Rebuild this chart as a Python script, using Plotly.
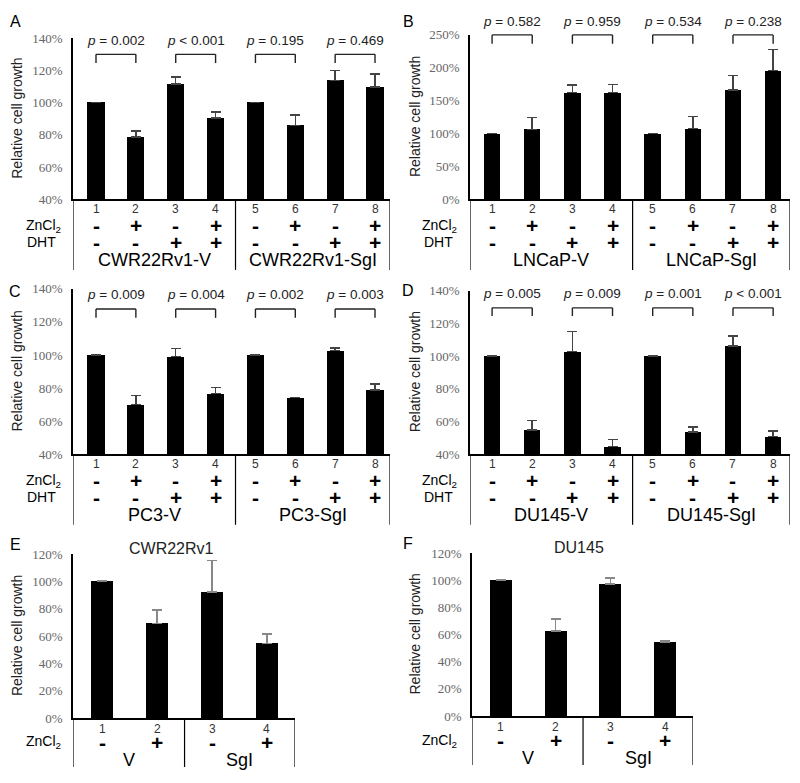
import plotly.graph_objects as go

# the page body keeps an 8px margin, so the figure is drawn 16px smaller
# and every reference pixel position is shifted by that margin
W, H = 800, 783
OFF = 8
FW, FH = W - 2 * OFF, H - 2 * OFF

# ---- data ----
a_vals = [100, 78.8, 111.6, 90.6, 100, 85.9, 113.7, 109.6]
a_err = [0, 3.6, 4.3, 3.7, 0, 6.5, 6.3, 8.2]
a_p = ["= 0.002", "< 0.001", "= 0.195", "= 0.469"]
a_groups = ["CWR22Rv1-V", "CWR22Rv1-SgI"]

b_vals = [100, 106.5, 162.5, 162.5, 100, 107.5, 166.5, 196]
b_err = [0, 18, 11, 12, 0, 18.5, 22, 31.5]
b_p = ["= 0.582", "= 0.959", "= 0.534", "= 0.238"]
b_groups = ["LNCaP-V", "LNCaP-SgI"]

c_vals = [100, 70.2, 99.2, 76.6, 100, 74.4, 102.6, 78.8]
c_err = [0, 5.2, 4.6, 3.8, 0, 0, 1.6, 3.5]
c_p = ["= 0.009", "= 0.004", "= 0.002", "= 0.003"]
c_groups = ["PC3-V", "PC3-SgI"]

d_vals = [100, 54.9, 102.6, 44.6, 100, 53.7, 106.2, 50.7]
d_err = [0, 5.6, 12.4, 4.3, 0, 2.8, 6, 3.6]
d_p = ["= 0.005", "= 0.009", "= 0.001", "< 0.001"]
d_groups = ["DU145-V", "DU145-SgI"]

e_vals = [100, 69.2, 92.5, 54.7]
e_err = [0.5, 10.1, 22.9, 6.7]
f_vals = [100, 62.7, 97.1, 54.5]
f_err = [0.5, 8.6, 4.3, 1.2]
ef_groups = ["V", "SgI"]

zn8 = ["-", "+", "-", "+", "-", "+", "-", "+"]
dht8 = ["-", "-", "+", "+", "-", "-", "+", "+"]
zn4 = ["-", "+", "-", "+"]

SANS = "Liberation Sans, Arial, sans-serif"
SERIF = "Liberation Serif, Times New Roman, serif"

# pixel boxes in the reference: (left, right, top, bottom)
panels = [
    dict(letter="A", vals=a_vals, err=a_err, p=a_p, groups=a_groups, box=(73, 390, 31.7, 196),
         yr=[40, 140], dt=20, xr=[0.423, 8.376], bw=0.43, br=(0.846, 0.90, 0.986),
         lpos=(15, 15), ylab=17, title=None),
    dict(letter="B", vals=b_vals, err=b_err, p=b_p, groups=b_groups, box=(470, 790, 28.3, 196),
         yr=[0, 250], dt=50, xr=[0.45, 8.42], bw=0.41, br=(0.946, 1.0, 1.079),
         lpos=(408, 15), ylab=415, title=None),
    dict(letter="C", vals=c_vals, err=c_err, p=c_p, groups=c_groups, box=(73, 390, 287.2, 456),
         yr=[40, 140], dt=20, xr=[0.423, 8.376], bw=0.43, br=(0.824, 0.878, 0.966),
         lpos=(15, 290), ylab=17, title=None),
    dict(letter="D", vals=d_vals, err=d_err, p=d_p, groups=d_groups, box=(470, 790, 289, 456),
         yr=[40, 140], dt=20, xr=[0.45, 8.42], bw=0.41, br=(0.844, 0.894, 0.98),
         lpos=(408, 289), ylab=415, title=None),
    dict(letter="E", vals=e_vals, err=e_err, p=None, groups=ef_groups, box=(73, 295, 558, 725),
         yr=[0, 120], dt=20, xr=[0.47, 4.51], bw=0.4, br=None,
         lpos=(15, 548), ylab=17, title=("CWR22Rv1", 171, 552)),
    dict(letter="F", vals=f_vals, err=f_err, p=None, groups=ef_groups, box=(472, 693, 556.7, 723),
         yr=[0, 120], dt=20, xr=[0.47, 4.51], bw=0.4, br=None,
         lpos=(408, 547), ylab=415, title=("DU145", 579, 551)),
]


def px(x):
    return (x - OFF) / FW


def py(y):
    return 1 - (y - OFF) / FH


def text(x, xref, y, yref, s, size, color="black", family=SANS, **kw):
    return dict(x=x, xref=xref, y=y, yref=yref, text=s, showarrow=False,
                xanchor="center", yanchor="middle",
                font=dict(family=family, size=size, color=color), **kw)


fig = go.Figure()
shapes = []
ann = []

for i, pn in enumerate(panels):
    k = "" if i == 0 else str(i + 1)
    xr, yr = "x" + k, "y" + k
    l, r, t, b = pn["box"]
    n = len(pn["vals"])
    xs = list(range(1, n + 1))
    eight = n == 8

    fig.add_trace(go.Bar(
        x=xs, y=pn["vals"], width=pn["bw"], marker_color="black", marker_line_width=0,
        error_y=dict(type="data", symmetric=False, array=pn["err"], arrayminus=[0] * n,
                     color="#444" if eight else "#888", thickness=1.5, width=5),
        xaxis=xr, yaxis=yr, hoverinfo="skip"))

    fig.layout["xaxis" + k] = dict(domain=[px(l), px(r)], range=pn["xr"], anchor=yr,
                                   showticklabels=False, ticks="", showgrid=False,
                                   zeroline=False, showline=True, linecolor="black",
                                   linewidth=1.5)
    fig.layout["yaxis" + k] = dict(domain=[py(b), py(t)], range=pn["yr"], dtick=pn["dt"],
                                   anchor=xr, ticksuffix="%", ticks="", showgrid=False,
                                   zeroline=False, showline=True, linecolor="black",
                                   linewidth=1.5, ticklabelstandoff=6,
                                   tickfont=dict(family=SERIF, size=13, color="#666"))

    # table lines below the axis
    depth = 72 if eight else 50
    mid = 4.5 if eight else 2.5
    for xv in [pn["xr"][0], mid, pn["xr"][1]]:
        shapes.append(dict(type="line", xref=xr, yref="paper", x0=xv, x1=xv,
                           y0=py(b), y1=py(b + depth), line=dict(color="black", width=1.2)))

    # table text
    num_off = 10 if eight else 11
    zn = zn8 if eight else zn4
    zn_off = 27 if eight else 25
    grp_off = 62 if eight else 43
    for j, xv in enumerate(xs):
        ann.append(text(xv, xr, py(b + num_off), "paper", str(xv), 12, "#333"))
        ann.append(text(xv, xr, py(b + zn_off), "paper", "<b>%s</b>" % zn[j], 21))
        if eight:
            ann.append(text(xv, xr, py(b + 44), "paper", "<b>%s</b>" % dht8[j], 21))
    lab_x = 43 if l < 400 else 440
    ann.append(text(px(lab_x), "paper", py(b + zn_off), "paper", "ZnCl<sub>2</sub>", 14))
    if eight:
        ann.append(text(px(lab_x - 2), "paper", py(b + 44), "paper", "DHT", 14))
    gx = [(pn["xr"][0] + mid) / 2, (mid + pn["xr"][1]) / 2]
    for g, xv in zip(pn["groups"], gx):
        ann.append(text(xv, xr, py(b + grp_off), "paper", g, 18))

    # p-value brackets
    if pn["p"]:
        lo, hi, ty = pn["br"]
        for j, ptxt in enumerate(pn["p"]):
            x0, x1 = 2 * j + 1, 2 * j + 2
            for seg in [(x0, x0, lo, hi), (x0, x1, hi, hi), (x1, x1, hi, lo)]:
                shapes.append(dict(type="line", xref=xr, yref=yr + " domain",
                                   x0=seg[0], x1=seg[1], y0=seg[2], y1=seg[3],
                                   line=dict(color="#222", width=1.4)))
            ann.append(text((x0 + x1) / 2, xr, ty, yr + " domain",
                            "<i>p</i> " + ptxt, 13.5, "#222"))

    # y title, letter, panel title
    ann.append(text(px(pn["ylab"]), "paper", 0.5, yr + " domain",
                    "Relative cell growth", 14, "#222", textangle=-90))
    ann.append(text(px(pn["lpos"][0]), "paper", py(pn["lpos"][1]), "paper",
                    pn["letter"], 16))
    if pn["title"]:
        tt, tx, tyy = pn["title"]
        ann.append(text(px(tx), "paper", py(tyy), "paper", tt, 16, "#222"))

fig.update_layout(width=FW, height=FH, margin=dict(l=0, r=0, t=0, b=0),
                  paper_bgcolor="white", plot_bgcolor="white", showlegend=False,
                  shapes=shapes, annotations=ann, bargap=0)

fig.write_html("out.html")
